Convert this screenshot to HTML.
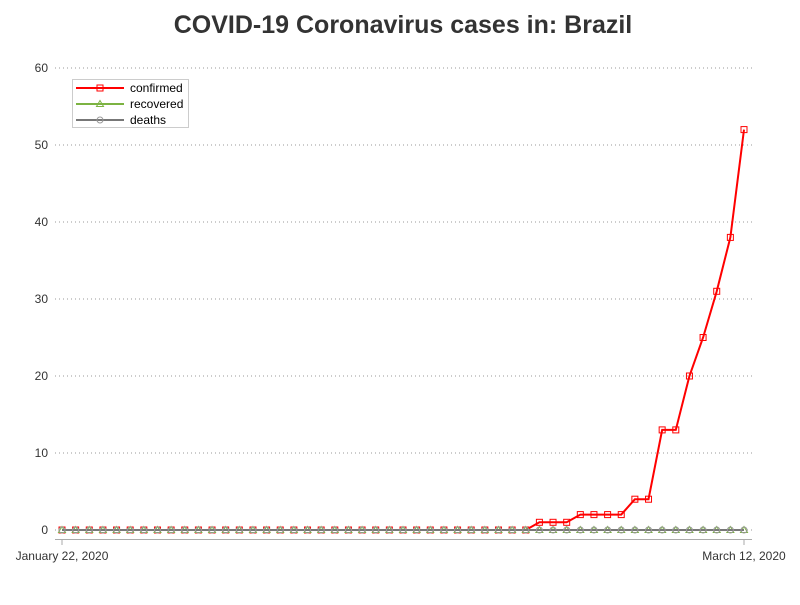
<!DOCTYPE html>
<html><head><meta charset="utf-8"><style>
body{margin:0;background:#fff;font-family:"Liberation Sans",sans-serif}
</style></head><body>
<svg id="chart" width="800" height="600" xmlns="http://www.w3.org/2000/svg">
<text x="403" y="33" text-anchor="middle" font-size="25" font-weight="bold" fill="#333" font-family="Liberation Sans, sans-serif">COVID-19 Coronavirus cases in: Brazil</text>
<g id="grid"></g><g id="series"></g>
<line x1="55" y1="539.5" x2="752" y2="539.5" stroke="#aaa"/>
<line x1="62" y1="539" x2="62" y2="545" stroke="#aaa"/>
<line x1="744" y1="539" x2="744" y2="545" stroke="#aaa"/>
<text x="62" y="560" text-anchor="middle" font-size="12" fill="#333">January 22, 2020</text>
<text x="744" y="560" text-anchor="middle" font-size="12" fill="#333">March 12, 2020</text>
<g>
<rect x="72.5" y="79.5" width="116" height="48" fill="#fff" stroke="#ccc"/>
<line x1="76" y1="88" x2="124" y2="88" stroke="red" stroke-width="2"/><rect x="97" y="85" width="6" height="6" fill="none" stroke="red"/>
<text x="130" y="92" font-size="12" fill="#000">confirmed</text>
<line x1="76" y1="104" x2="124" y2="104" stroke="#7cb342" stroke-width="2"/><path d="M100 100.5 L103.5 106.5 L96.5 106.5Z" fill="none" stroke="#7cb342"/>
<text x="130" y="108" font-size="12" fill="#000">recovered</text>
<line x1="76" y1="120" x2="124" y2="120" stroke="#777" stroke-width="2"/><circle cx="100" cy="120" r="3" fill="none" stroke="#999"/>
<text x="130" y="124" font-size="12" fill="#000">deaths</text>
</g>
</svg>
<script>
const confirmed=[0,0,0,0,0,0,0,0,0,0,0,0,0,0,0,0,0,0,0,0,0,0,0,0,0,0,0,0,0,0,0,0,0,0,0,1,1,1,2,2,2,2,4,4,13,13,20,25,31,38,52];
const recovered=new Array(51).fill(0);
const deaths=new Array(51).fill(0);
const yTicks=[0,10,20,30,40,50,60];
const NS="http://www.w3.org/2000/svg";
const x=i=>62+i*(682/(confirmed.length-1));
const y=v=>530-v*(462/60);
const grid=document.getElementById('grid'),ser=document.getElementById('series');
function mk(t,a,p){const e=document.createElementNS(NS,t);for(const k in a)e.setAttribute(k,a[k]);p.appendChild(e);return e;}
yTicks.forEach(t=>{
 const l=mk('line',{x1:55,x2:752,y1:y(t),y2:y(t),stroke:'#999','stroke-dasharray':'1,3'},grid);
 
 
 const tx=mk('text',{x:48,y:y(t)+4,'text-anchor':'end','font-size':12,fill:'#333'},grid);
 tx.textContent=t;
 
 
});
function draw(data,color,name,marker,mcolor){
 const p=mk('polyline',{points:data.map((v,i)=>x(i)+','+y(v)).join(' '),fill:'none',stroke:color,'stroke-width':2},ser);
 
 
 data.forEach((v,i)=>{
  let m;
  if(marker==='sq')m=mk('rect',{x:x(i)-3,y:y(v)-3,width:6,height:6,fill:'none',stroke:mcolor},ser);
  else if(marker==='tri')m=mk('path',{d:`M${x(i)} ${y(v)-3.5} L${x(i)+3.5} ${y(v)+2.5} L${x(i)-3.5} ${y(v)+2.5}Z`,fill:'none',stroke:mcolor},ser);
  else m=mk('circle',{cx:x(i),cy:y(v),r:3,fill:'none',stroke:mcolor},ser);
  
  
 });
}
draw(confirmed,'red','confirmed','sq','red');
draw(recovered,'#7cb342','recovered','tri','#7cb342');
draw(deaths,'#777','deaths','circ','#999');
</script>
</body></html>
